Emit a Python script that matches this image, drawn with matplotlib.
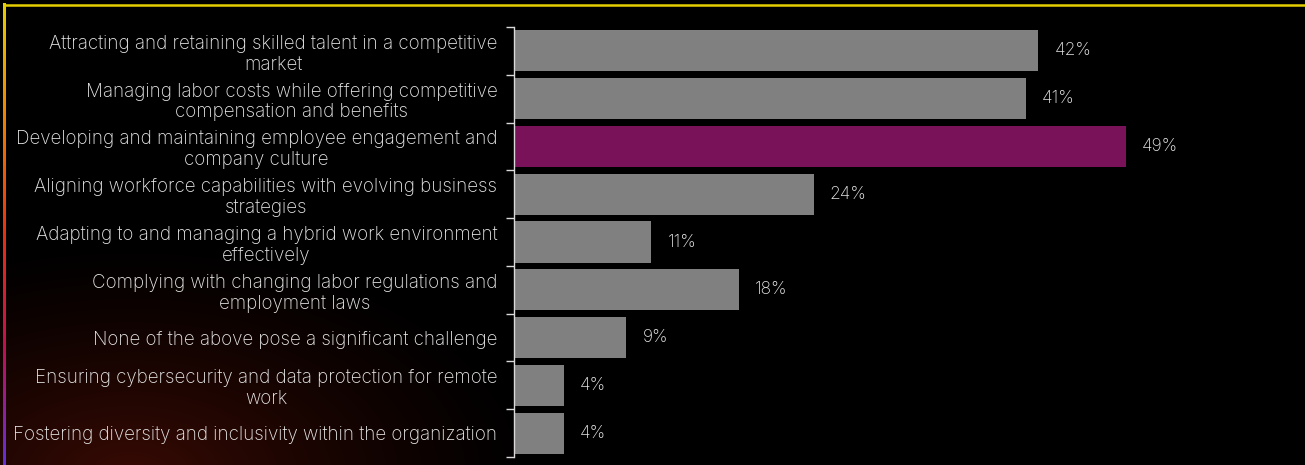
import numpy as np
import matplotlib
matplotlib.use("Agg")
import matplotlib.pyplot as plt
from matplotlib.colors import LinearSegmentedColormap

challenges = [
    "Attracting and retaining skilled talent in a competitive\nmarket",
    "Managing labor costs while offering competitive\ncompensation and benefits",
    "Developing and maintaining employee engagement and\ncompany culture",
    "Aligning workforce capabilities with evolving business\nstrategies",
    "Adapting to and managing a hybrid work environment\neffectively",
    "Complying with changing labor regulations and\nemployment laws",
    "None of the above pose a significant challenge",
    "Ensuring cybersecurity and data protection for remote\nwork",
    "Fostering diversity and inclusivity within the organization",
]
shares = [42, 41, 49, 24, 11, 18, 9, 4, 4]
highlight = 2

plt.rcParams["font.family"] = ["Inter", "DejaVu Sans"]

W, H = 1305, 465
fig = plt.figure(figsize=(W / 100, H / 100), dpi=100, facecolor="black")

# warm glow in the lower left corner
bg = fig.add_axes([0, 0, 1, 1], zorder=-5)
yy, xx = np.mgrid[0:H, 0:W]
d = np.hypot((xx - 130) / 420.0, (yy - H - 10) / 240.0)
glow = np.clip(1 - d, 0, 1) ** 1.3
img = np.zeros((H, W, 3))
img[..., 0] = 0.22 * glow
img[..., 1] = 0.04 * glow
img[..., 2] = 0.015 * glow
bg.imshow(img, extent=[0, W, H, 0], aspect="auto")

# frame: yellow top edge, left edge fading from yellow to violet
edge_cmap = LinearSegmentedColormap.from_list(
    "edge", ["#e6cf00", "#f08000", "#e83010", "#c01050", "#6030e0"])
bg.imshow(np.linspace(0, 1, 256)[:, None], cmap=edge_cmap, aspect="auto",
          extent=[3, 5.5, H, 4], interpolation="bilinear")
bg.plot([3, W], [5, 5], color="#e6cf00", lw=1.8, solid_capstyle="butt")
bg.set_xlim(0, W)
bg.set_ylim(H, 0)
bg.axis("off")

ax = fig.add_axes([514 / W, 1 - 457 / H, (1300 - 514) / W, 430 / H])
ax.set_facecolor("none")
n = len(challenges)
pos = np.arange(n)
colors = ["#7a1259" if i == highlight else "#808080" for i in range(n)]
ax.barh(pos, shares, height=0.86, color=colors)
for p, v in zip(pos, shares):
    ax.text(v + 1.3, p, f"{v}%", va="center", ha="left", color="#e6e6e6",
            fontsize=12.5, fontweight="light")

ax.set_xlim(0, 786 / 12.48)
ax.set_ylim(n - 0.5, -0.5)
ax.set_yticks(pos)
ax.set_yticklabels(challenges, fontsize=13.5, color="#e6e6e6", linespacing=1.2,
                   multialignment="center", fontweight="light")
ax.tick_params(axis="y", length=0, pad=12)
ax.set_yticks(np.arange(-0.5, n, 1), minor=True)
ax.tick_params(axis="y", which="minor", length=6, color="#d9d9d9", width=1)
ax.set_xticks([])
for s in ["top", "right", "bottom"]:
    ax.spines[s].set_visible(False)
ax.spines["left"].set_color("#d9d9d9")
ax.spines["left"].set_linewidth(1)

fig.savefig("out.png", dpi=100, facecolor="black")
